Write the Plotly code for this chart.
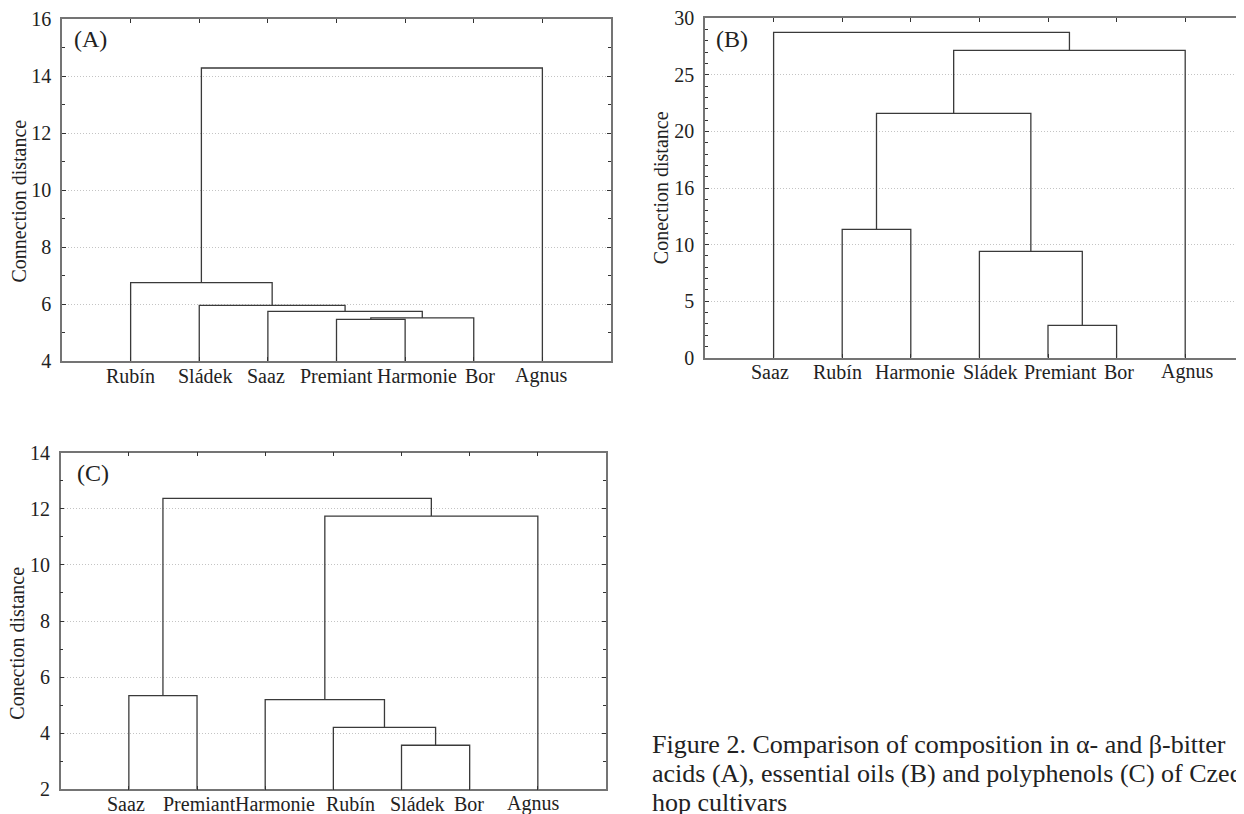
import plotly.graph_objects as go

# ---------------- data ----------------
# leaves in dendrogram order; merges: (left, right, height); index < 7 -> leaf, 7+k -> k-th merge
leaves_A = ["Rubín", "Sládek", "Saaz", "Premiant", "Harmonie", "Bor", "Agnus"]
merges_A = [(3, 4, 5.46), (7, 5, 5.51), (2, 8, 5.74), (1, 9, 5.95), (0, 10, 6.75), (11, 6, 14.28)]

leaves_B = ["Saaz", "Rubín", "Harmonie", "Sládek", "Premiant", "Bor", "Agnus"]
merges_B = [(4, 5, 2.86), (3, 7, 9.40), (1, 2, 11.34), (9, 8, 21.6), (10, 6, 27.17), (0, 11, 28.76)]

leaves_C = ["Saaz", "Premiant", "Harmonie", "Rubín", "Sládek", "Bor", "Agnus"]
merges_C = [(4, 5, 3.57), (3, 7, 4.21), (2, 8, 5.20), (0, 1, 5.34), (9, 6, 11.74), (10, 11, 12.37)]

yticks_B = [0, 5, 10, 15, 20, 25, 30]
yticktext_B = ["0", "5", "10", "16", "20", "25", "30"]

titles = ["Connection distance", "Conection distance", "Conection distance"]
panel_labels = ["(A)", "(B)", "(C)"]
caption_lines = [
    "Figure 2. Comparison of composition in α- and β-bitter",
    "acids (A), essential oils (B) and polyphenols (C) of Czech",
    "hop cultivars",
]

# ---------------- layout / style ----------------
FONT = "Liberation Serif"
LINE = "#3a3a3a"
AXC = "#747474"
OFF = 8  # page body margin of the browser
W, H = 1244 - OFF, 814 - OFF

# horizontal label nudges (px) as typeset in the original figure
nudge_A = [0, 6, -2, 0, 12, 6, -1]
nudge_B = [-4, -5, 4, 11, 12, 2, 2]
nudge_C = [-3, 2, 10, 17, 15, -1, -5]


def dendro_xy(leaves, merges):
    n = len(leaves)
    pos = {i: (i + 1, 0.0) for i in range(n)}
    xs, ys = [], []
    for k, (a, b, h) in enumerate(merges):
        xa, ha = pos[a]
        xb, hb = pos[b]
        xs += [xa, xa, xb, xb, None]
        ys += [ha, h, h, hb, None]
        pos[n + k] = ((xa + xb) / 2, h)
    return xs, ys


fig = go.Figure()
panels = [(leaves_A, merges_A, "x", "y"), (leaves_B, merges_B, "x2", "y2"), (leaves_C, merges_C, "x3", "y3")]
for lv, mg, xa, ya in panels:
    xs, ys = dendro_xy(lv, mg)
    fig.add_trace(go.Scatter(x=xs, y=ys, mode="lines", xaxis=xa, yaxis=ya,
                             line=dict(color=LINE, width=1.3), hoverinfo="skip", showlegend=False))


def px(x):
    return (x - OFF) / W


def py(y):
    return 1 - (y - OFF) / H


def xd(a, b):
    return [px(a), min(px(b), 1.0)]


def yd(top, bottom):
    return [py(bottom), py(top)]


tickfont = dict(family=FONT, size=20, color="#222")
base_x = dict(showline=True, linecolor=AXC, linewidth=1.5, ticks="inside", ticklen=4, tickcolor="#333",
              showticklabels=False, showgrid=False, zeroline=False, tickvals=list(range(1, 8)),
              automargin=False)
base_y = dict(showline=True, linecolor=AXC, linewidth=1.5, ticks="inside", ticklen=4, tickcolor="#333",
              tickfont=tickfont, showgrid=True, gridcolor="#c4c4c4", griddash="1px,2px", gridwidth=1,
              zeroline=False, ticklabelstandoff=5, automargin=False, ticklabeloverflow="allow",
              minor=dict(ticks="inside", dtick=1, ticklen=3, tickcolor="#333", showgrid=False))

fig.update_layout(
    width=W, height=H, margin=dict(l=0, r=0, t=0, b=0, autoexpand=False),
    paper_bgcolor="white", plot_bgcolor="white", showlegend=False,
    xaxis=dict(base_x, domain=xd(62, 611), range=[0, 8], mirror="ticks", anchor="y"),
    yaxis=dict(base_y, domain=yd(19, 361), range=[4, 16], dtick=2, tick0=0, mirror="ticks", anchor="x"),
    xaxis2=dict(base_x, domain=xd(705, 1244), range=[0, 539 / 68.6], mirror="ticks", anchor="y2"),
    yaxis2=dict(base_y, domain=yd(18.3, 357.7), range=[0, 30], tickmode="array", tickvals=yticks_B,
                ticktext=yticktext_B, mirror=False, anchor="x2"),
    xaxis3=dict(base_x, domain=xd(60.7, 606), range=[0, 8], mirror="ticks", anchor="y3"),
    yaxis3=dict(base_y, domain=yd(452.7, 789.3), range=[2, 14], dtick=2, tick0=0, mirror="ticks", anchor="x3"),
)

ann = []
# leaf labels under each leaf (x in data coordinates of each panel)
for lv, nudge, xr, yr, drop in [(leaves_A, nudge_A, "x", "y domain", 15),
                                (leaves_B, nudge_B, "x2", "y2 domain", 14),
                                (leaves_C, nudge_C, "x3", "y3 domain", 14.5)]:
    for i, name in enumerate(lv):
        ann.append(dict(text=name, x=i + 1, y=0, xref=xr, yref=yr, showarrow=False,
                        xanchor="center", yanchor="middle", xshift=nudge[i], yshift=-drop,
                        font=tickfont))
# y-axis titles
for t, (cx, cy) in zip(titles, [(18.5, 201), (661.7, 187.5), (16.7, 643)]):
    ann.append(dict(text=t, x=px(cx), y=py(cy), xref="paper", yref="paper", showarrow=False,
                    textangle=-90, xanchor="center", yanchor="middle",
                    font=dict(family=FONT, size=20, color="#222")))
# panel labels
for t, (cx, cy) in zip(panel_labels, [(90.5, 39), (732, 38.5), (93, 473)]):
    ann.append(dict(text=t, x=px(cx), y=py(cy), xref="paper", yref="paper", showarrow=False,
                    xanchor="center", yanchor="middle", font=dict(family=FONT, size=24, color="#222")))
# caption
for t, cy in zip(caption_lines, [744, 773, 802]):
    ann.append(dict(text=t, x=px(650), y=py(cy), xref="paper", yref="paper", showarrow=False,
                    xanchor="left", yanchor="middle", font=dict(family=FONT, size=26, color="#222")))
fig.update_layout(annotations=ann)

fig.write_html("out.html")
